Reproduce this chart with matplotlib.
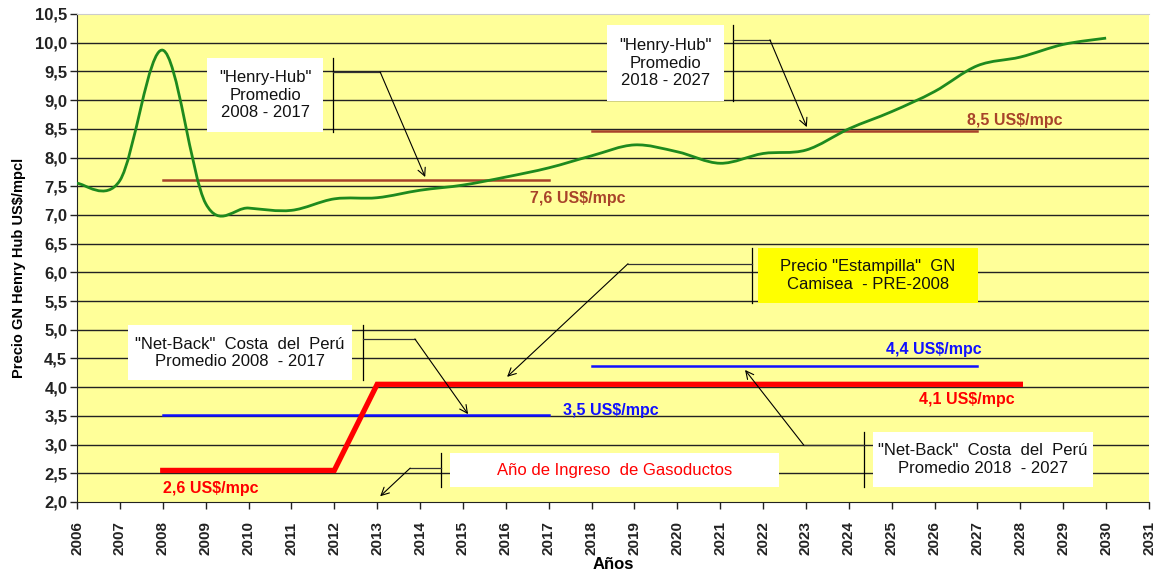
import matplotlib
matplotlib.use("Agg")
import matplotlib.pyplot as plt
from matplotlib.path import Path
from matplotlib.patches import PathPatch, Rectangle
import numpy as np

plt.rcParams['font.family'] = ['Liberation Sans', 'DejaVu Sans']

## Data

years_hh   = [2006, 2007, 2008, 2009, 2010, 2011, 2012, 2013, 2014, 2015, 2016, 2017,
              2018, 2019, 2020, 2021, 2022, 2023, 2024, 2025, 2026, 2027, 2028, 2029, 2030]
henry_hub  = [7.55, 7.60, 9.87, 7.20, 7.12, 7.08, 7.28, 7.30, 7.43, 7.52, 7.66, 7.82,
              8.03, 8.22, 8.10, 7.90, 8.07, 8.13, 8.50, 8.80, 9.15, 9.60, 9.75, 9.97, 10.08]

hh_avg_years_1 = [2008, 2017]
hh_avg_1       = [7.61, 7.61]
hh_avg_years_2 = [2018, 2027]
hh_avg_2       = [8.46, 8.46]

nb_avg_years_1 = [2008, 2017]
nb_avg_1       = [3.51, 3.51]
nb_avg_years_2 = [2018, 2027]
nb_avg_2       = [4.37, 4.37]

stamp_years = [2008, 2012, 2013, 2028]
stamp_price = [2.55, 2.55, 4.05, 4.05]

year_ticks  = list(range(2006, 2032))
price_ticks = [2.0 + 0.5 * k for k in range(18)]


def SmoothPath( xs, ys ):
    # Excel-like smoothed line: Catmull-Rom segments as cubic Bezier curves
    pts   = np.column_stack( [ xs, ys ] ).astype( float )
    verts = [ pts[0] ]
    codes = [ Path.MOVETO ]
    n = len( pts )
    for i in range( n - 1 ):
        p0 = pts[i - 1] if i > 0 else pts[i]
        p1 = pts[i]
        p2 = pts[i + 1]
        p3 = pts[i + 2] if i + 2 < n else pts[i + 1]
        verts += [ p1 + (p2 - p0) / 6.0, p2 - (p3 - p1) / 6.0, p2 ]
        codes += [ Path.CURVE4 ] * 3
    return Path( verts, codes )


fig = plt.figure( figsize = (11.62, 5.74), dpi = 100 )
fig.subplots_adjust( left = 77 / 1162, right = 1149 / 1162, top = 1 - 14 / 574, bottom = 1 - 502 / 574 )
ax = fig.add_subplot( 111 )
ax.set_facecolor( '#FFFF99' )

ax.set_xlim( 2006, 2031 )
ax.set_ylim( 2.0, 10.5 )

for v in price_ticks[1:-1]:
    ax.axhline( v, color = '#222222', linewidth = 1.0, zorder = 1 )

## Series
ax.add_patch( PathPatch( SmoothPath( years_hh, henry_hub ), fill = False,
                         edgecolor = '#1E8A1E', linewidth = 2.0, zorder = 4 ) )

brown = '#A8432A'
ax.plot( hh_avg_years_1, hh_avg_1, color = brown, linewidth = 1.8, zorder = 3 )
ax.plot( hh_avg_years_2, hh_avg_2, color = brown, linewidth = 1.8, zorder = 3 )

ax.plot( nb_avg_years_1, nb_avg_1, color = '#1010FF', linewidth = 1.8, zorder = 3 )
ax.plot( nb_avg_years_2, nb_avg_2, color = '#1010FF', linewidth = 1.8, zorder = 3 )

ax.plot( stamp_years, stamp_price, color = '#FF0000', linewidth = 3.8, zorder = 3,
         solid_joinstyle = 'miter' )

## Value labels
lbl = dict( fontsize = 11.5, fontweight = 'bold', va = 'center' )
ax.text( 2016.56, 7.28, "7,6 US$/mpc", color = brown,     **lbl )
ax.text( 2026.76, 8.65, "8,5 US$/mpc", color = brown,     **lbl )
ax.text( 2017.33, 3.60, "3,5 US$/mpc", color = '#1010FF', **lbl )
ax.text( 2024.87, 4.65, "4,4 US$/mpc", color = '#1010FF', **lbl )
ax.text( 2025.64, 3.78, "4,1 US$/mpc", color = '#FF0000', **lbl )
ax.text( 2008.00, 2.23, "2,6 US$/mpc", color = '#FF0000', **lbl )

## Callout boxes with leader lines
def Callout( box, text, color, face, vline, hline, tip ):
    x0, x1, y0, y1 = box
    ax.add_patch( Rectangle( (x0, y0), x1 - x0, y1 - y0, facecolor = face,
                             edgecolor = 'none', zorder = 5 ) )
    ax.text( (x0 + x1) / 2, (y0 + y1) / 2, text, color = color, fontsize = 12,
             ha = 'center', va = 'center', linespacing = 1.2, zorder = 6 )
    vx, vy0, vy1 = vline
    ax.plot( [vx, vx], [vy0, vy1], color = 'black', linewidth = 0.9, zorder = 5 )
    hy, hx0, hx1 = hline
    ax.plot( [hx0, hx1], [hy, hy], color = '#333333', linewidth = 0.9, zorder = 5 )
    ax.annotate( "", xy = tip, xytext = (hx1, hy),
                 arrowprops = dict( arrowstyle = '->', color = 'black', lw = 0.8,
                                    shrinkA = 0, shrinkB = 0, mutation_scale = 14 ),
                 zorder = 5 )

Callout( (2009.03, 2011.74, 8.44, 9.73), '"Henry-Hub"\nPromedio\n2008 - 2017', '#111111', 'white',
         (2011.97, 8.44, 9.73), (9.49, 2011.97, 2013.07), (2014.12, 7.66) )
Callout( (2018.36, 2021.09, 8.98, 10.31), '"Henry-Hub"\nPromedio\n2018 - 2027', '#111111', 'white',
         (2021.30, 8.98, 10.31), (10.05, 2021.30, 2022.16), (2023.02, 8.53) )
Callout( (2021.88, 2027.01, 5.47, 6.42), 'Precio "Estampilla"  GN\nCamisea  - PRE-2008', '#111111', '#FFFF00',
         (2021.74, 5.47, 6.42), (6.15, 2021.74, 2018.85), (2016.03, 4.18) )
Callout( (2007.19, 2012.41, 4.12, 5.08), '"Net-Back"  Costa  del  Perú\nPromedio 2008  - 2017', '#111111', 'white',
         (2012.67, 4.12, 5.08), (4.84, 2012.67, 2013.88), (2015.12, 3.53) )
Callout( (2014.70, 2022.37, 2.26, 2.85), 'Año de Ingreso  de Gasoductos', '#FF0000', 'white',
         (2014.49, 2.26, 2.85), (2.59, 2014.49, 2013.77), (2013.07, 2.10) )
Callout( (2024.56, 2029.69, 2.26, 3.22), '"Net-Back"  Costa  del  Perú\nPromedio 2018  - 2027', '#111111', 'white',
         (2024.35, 2.26, 3.22), (2.99, 2024.35, 2022.95), (2021.58, 4.30) )

## Axes
ax.set_xticks( year_ticks )
ax.set_xticklabels( [str(y) for y in year_ticks], rotation = 90, fontsize = 11, fontweight = 'bold' )
ax.set_yticks( price_ticks )
ax.set_yticklabels( [("%.1f" % v).replace('.', ',') for v in price_ticks], fontsize = 12, fontweight = 'bold' )
ax.tick_params( direction = 'out', length = 5, width = 1, colors = '#222222' )
ax.tick_params( axis = 'y', pad = 2 )
ax.tick_params( axis = 'x', pad = 9 )

ax.set_xlabel( "Años", fontsize = 12, fontweight = 'bold', labelpad = 1 )
ax.set_ylabel( "Precio GN Henry Hub US$/mpcl", fontsize = 10.5, fontweight = 'bold' )
ax.yaxis.set_label_coords( -0.048, 0.48 )

ax.spines['right'].set_visible( False )
ax.spines['top'].set_color( '#CCCCCC' )
ax.spines['left'].set_color( '#222222' )
ax.spines['bottom'].set_color( '#222222' )

plt.savefig( "out.png", dpi = 100 )
plt.close()
